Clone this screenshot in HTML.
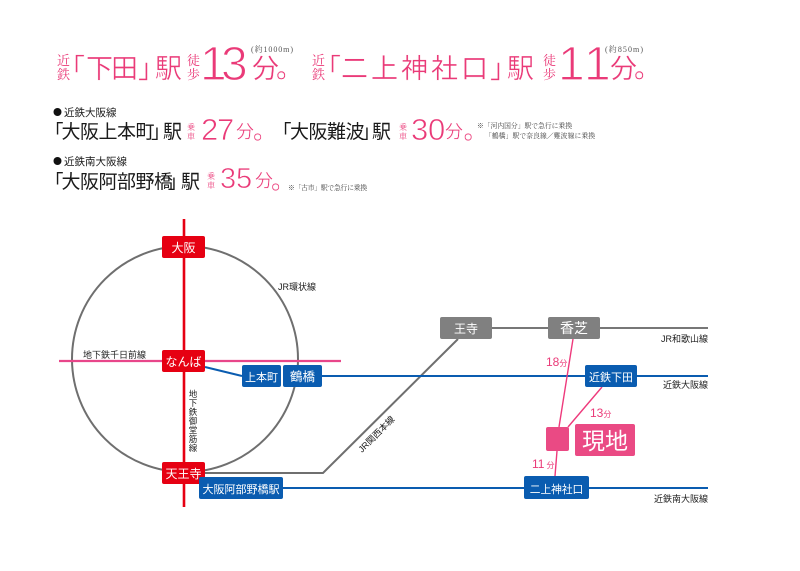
<!DOCTYPE html>
<html lang="ja"><head><meta charset="utf-8"><style>
html,body{margin:0;padding:0;background:#fff}
svg{display:block}
text{font-family:"Liberation Sans","Noto Sans CJK JP",sans-serif}
.s{font-family:"Liberation Serif","Noto Serif CJK SC",serif}
.p{fill:#ea3a78}
.k{fill:#1a1a1a}
.w{fill:#fff;text-anchor:middle}
.l{fill:#222;font-size:9px}
.t{stroke:#fff;stroke-width:.35px}
.tt{stroke:#fff;stroke-width:1.2px}
.tm{stroke:#fff;stroke-width:.7px}
</style></head><body>
<svg width="800" height="571" viewBox="0 0 800 571" xmlns="http://www.w3.org/2000/svg">
<rect width="800" height="571" fill="#fff"/>
<!-- heading 1 -->
<g class="p">
<text x="57" y="65" font-size="13" class="s p">近</text><text x="57" y="79" font-size="13" class="s p">鉄</text>
<text x="58 86 111 138" y="78" font-size="27" class="t">「下田」</text>
<text x="155" y="78" font-size="27" class="t">駅</text>
<text x="187" y="65" font-size="13" class="s p">徒</text><text x="187" y="79" font-size="13" class="s p">歩</text>
<text x="200 221" y="80" font-size="48" class="tt">13</text>
<text x="252" y="78" font-size="27" class="t">分</text>
<text x="276" y="78" font-size="27" class="t">。</text>
<text x="312" y="65" font-size="13" class="s p">近</text><text x="312" y="79" font-size="13" class="s p">鉄</text>
<text x="314 341 371 401 431 461 490" y="78" font-size="27" class="t">「二上神社口」</text>
<text x="507" y="78" font-size="27" class="t">駅</text>
<text x="543" y="65" font-size="13" class="s p">徒</text><text x="543" y="79" font-size="13" class="s p">歩</text>
<text x="558 584" y="80" font-size="48" class="tt">11</text>
<text x="610" y="78" font-size="27" class="t">分</text>
<text x="634" y="78" font-size="27" class="t">。</text>
</g>
<text x="251" y="52" font-size="8" class="s" fill="#555" textLength="42">(約1000m)</text>
<text x="605" y="52" font-size="8" class="s" fill="#555" textLength="38">(約850m)</text>
<!-- section 1 -->
<circle cx="57.500" cy="112" r="4" fill="#111"/>
<text x="64" y="116" font-size="10.500" class="k">近鉄大阪線</text>
<text x="44.500 61.500 80 98.500 117 135.500 151" y="138" font-size="19" class="k">「大阪上本町」</text>
<text x="163" y="138" font-size="19" class="k">駅</text>
<text x="187" y="130" font-size="8" class="p s">乗</text><text x="187" y="139" font-size="8" class="p s">車</text>
<text x="201 217" y="140" font-size="31" class="p tm">27</text>
<text x="236" y="138" font-size="18" class="p t">分</text>
<text x="253" y="139" font-size="24" class="p t">。</text>
<text x="272.500 290 308.500 327 345.500 361" y="138" font-size="19" class="k">「大阪難波」</text>
<text x="372" y="138" font-size="19" class="k">駅</text>
<text x="399" y="130" font-size="8" class="p s">乗</text><text x="399" y="139" font-size="8" class="p s">車</text>
<text x="411 428" y="140" font-size="31" class="p tm">30</text>
<text x="445" y="138" font-size="18" class="p t">分</text>
<text x="463.500" y="139" font-size="24" class="p t">。</text>
<text x="477" y="128" font-size="6.800" class="s" fill="#444" textLength="95">※「河内国分」駅で急行に乗換</text>
<text x="485" y="138" font-size="6.800" class="s" fill="#444" textLength="110">「鶴橋」駅で奈良線／難波線に乗換</text>
<!-- section 2 -->
<circle cx="57.500" cy="161" r="4" fill="#111"/>
<text x="64" y="165" font-size="10.500" class="k">近鉄南大阪線</text>
<text x="44.500 61.500 80 98.500 117 135.500 154 168" y="188" font-size="19" class="k">「大阪阿部野橋」</text>
<text x="181" y="188" font-size="19" class="k">駅</text>
<text x="207" y="179" font-size="8" class="p s">乗</text><text x="207" y="188" font-size="8" class="p s">車</text>
<text x="220 236" y="188" font-size="29" class="p tm">35</text>
<text x="255" y="187" font-size="18" class="p t">分</text>
<text x="271" y="189" font-size="24" class="p t">。</text>
<text x="288" y="190" font-size="6.800" class="s" fill="#444" textLength="79">※「古市」駅で急行に乗換</text>
<!-- lines -->
<circle cx="185" cy="359" r="113" fill="none" stroke="#6f6f6f" stroke-width="2"/>
<path d="M205 473H323L458 339" fill="none" stroke="#6f6f6f" stroke-width="2"/>
<path d="M492 328H548M600 328H708" fill="none" stroke="#777" stroke-width="2"/>
<path d="M205 367L242 376" stroke="#0a5cb0" stroke-width="2"/>
<path d="M322 376H585M637 376H708M283 488H524M589 488H708" stroke="#0a5cb0" stroke-width="2"/>
<path d="M59 361H341" stroke="#e8468a" stroke-width="2.200"/>
<path d="M184 219V507" stroke="#e60012" stroke-width="2.600"/>
<path d="M573 339L559 427M602 387L568 427M557 451L555 476" stroke="#ee3a7c" stroke-width="1.400" fill="none"/>
<!-- stations -->
<g fill="#e60012">
<rect x="162" y="236" width="43" height="22" rx="2"/>
<rect x="162" y="350" width="43" height="22" rx="2"/>
<rect x="162" y="462" width="43" height="22" rx="2"/>
</g>
<g fill="#0a5cb0">
<rect x="242" y="365" width="39" height="22" rx="2"/>
<rect x="283" y="365" width="39" height="22" rx="2"/>
<rect x="199" y="477" width="84" height="22" rx="2"/>
<rect x="585" y="365" width="52" height="22" rx="2"/>
<rect x="524" y="476" width="65" height="23" rx="2"/>
</g>
<g fill="#808080">
<rect x="440" y="317" width="52" height="22" rx="2"/>
<rect x="548" y="317" width="52" height="22" rx="2"/>
</g>
<g fill="#ea4a84">
<rect x="546" y="427" width="23" height="24" rx="2"/>
<rect x="575" y="424" width="60" height="32" rx="2"/>
</g>
<g class="w">
<text x="183.500" y="252" font-size="12">大阪</text>
<text x="183.500" y="366" font-size="12">なんば</text>
<text x="183.500" y="478" font-size="12">天王寺</text>
<text x="261.500" y="381" font-size="11">上本町</text>
<text x="302.500" y="381" font-size="12.500">鶴橋</text>
<text x="241" y="493" font-size="11">大阪阿部野橋駅</text>
<text x="611" y="381" font-size="11">近鉄下田</text>
<text x="556.500" y="493" font-size="10.700">二上神社口</text>
<text x="466" y="333" font-size="12">王寺</text>
<text x="574" y="333" font-size="14">香芝</text>
<text x="605" y="449" font-size="23">現地</text>
</g>
<!-- labels -->
<g class="l">
<text x="278" y="290">JR環状線</text>
<text x="83" y="358">地下鉄千日前線</text>
<text x="708" y="342" text-anchor="end">JR和歌山線</text>
<text x="708" y="388" text-anchor="end">近鉄大阪線</text>
<text x="708" y="502" text-anchor="end">近鉄南大阪線</text>
<text transform="translate(362,453) rotate(-45)">JR関西本線</text>
</g>
<g class="l" text-anchor="middle" style="font-size:8.500px">
<text x="193" y="397">地</text><text x="193" y="406">下</text><text x="193" y="415">鉄</text><text x="193" y="424">御</text><text x="193" y="433">堂</text><text x="193" y="442">筋</text><text x="193" y="451">線</text>
</g>
<g class="p">
<text x="546" y="366" font-size="12">18<tspan font-size="8">分</tspan></text>
<text x="590" y="417" font-size="12">13<tspan font-size="8">分</tspan></text>
<text x="532" y="468" font-size="12">11<tspan font-size="8" dx="2">分</tspan></text>
</g>
</svg>
</body></html>
